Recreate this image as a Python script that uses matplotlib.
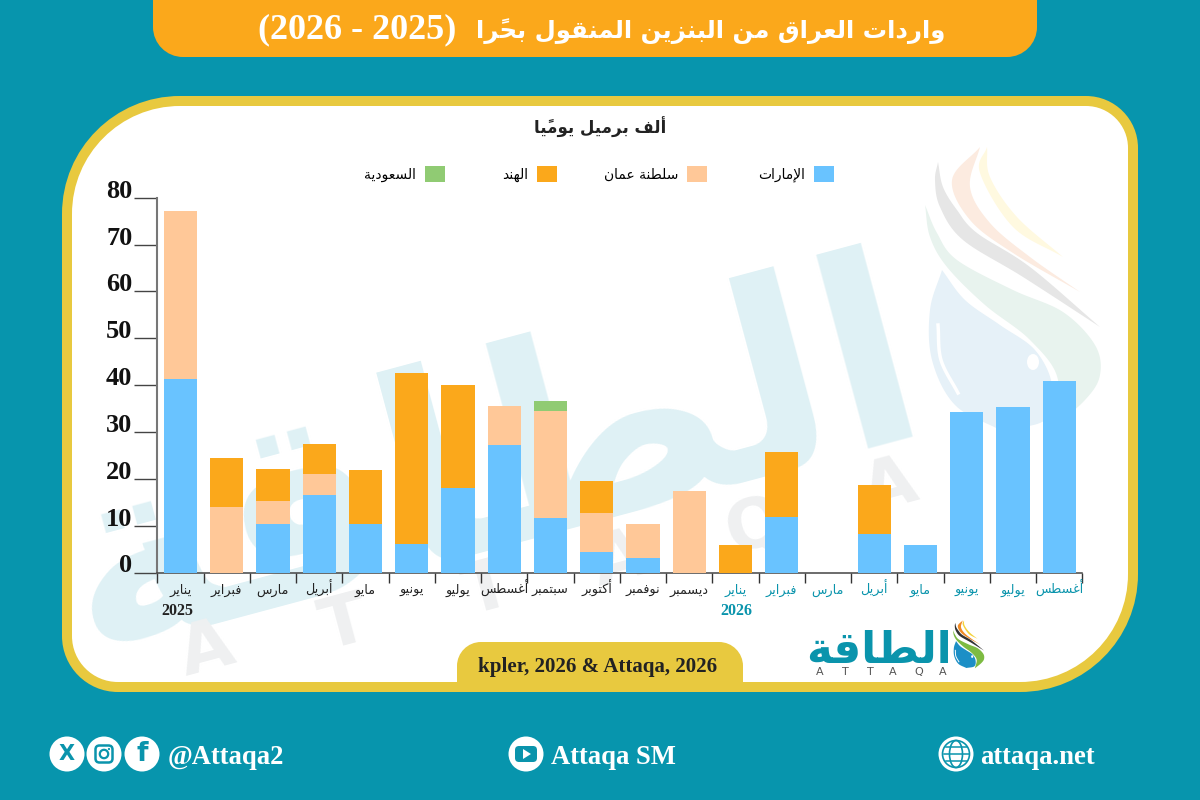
import matplotlib
matplotlib.use("Agg")
import matplotlib.pyplot as plt
import numpy as np
from matplotlib.path import Path
from matplotlib.patches import PathPatch, Circle, FancyBboxPatch, Polygon, Ellipse

# ---------- data ----------
months = ["يناير", "فبراير", "مارس", "أبريل", "مايو", "يونيو", "يوليو", "أغسطس", "سبتمبر", "أكتوبر",
          "نوفمبر", "ديسمبر", "يناير", "فبراير", "مارس", "أبريل", "مايو", "يونيو", "يوليو", "أغسطس"]
years = {0: "2025", 12: "2026"}
uae =   [41.2, 0, 10.3, 16.5, 10.3, 6.0, 18.0, 27.3, 11.7, 4.4, 3.1, 0, 0, 11.8, 0, 8.2, 5.8, 34.2, 35.3, 40.8]
oman =  [35.9, 13.9, 4.9, 4.6, 0, 0, 0, 8.2, 22.7, 8.3, 7.2, 17.4, 0, 0, 0, 0, 0, 0, 0, 0]
india = [0, 10.5, 6.9, 6.3, 11.6, 36.6, 22.1, 0, 0, 6.8, 0, 0, 5.8, 13.9, 0, 10.5, 0, 0, 0, 0]
saudi = [0, 0, 0, 0, 0, 0, 0, 0, 2.1, 0, 0, 0, 0, 0, 0, 0, 0, 0, 0, 0]
series_names = ["الإمارات", "سلطنة عمان", "الهند", "السعودية"]
yticks = [0, 10, 20, 30, 40, 50, 60, 70, 80]
title_ar = "واردات العراق من البنزين المنقول بحرًا"
title_years = "(2026 - 2025)"
subtitle = "ألف برميل يوميًا"
source = "kpler, 2026 & Attaqa, 2026"

# ---------- colours ----------
TEAL = "#0795AD"; GOLD = "#E8C93F"; ORANGE = "#FBA81B"
BLUE = "#69C3FF"; PEACH = "#FFC898"; GREEN = "#90CB73"; WM = "#DFF1F5"; MTEAL = "#0A94AC"

# ---------- Arabic shaping (presentation forms, visual order) ----------
_dual = {"ئ": 0xFE89, "ب": 0xFE8F, "ت": 0xFE95, "ث": 0xFE99, "ج": 0xFE9D, "ح": 0xFEA1, "خ": 0xFEA5,
         "س": 0xFEB1, "ش": 0xFEB5, "ص": 0xFEB9, "ض": 0xFEBD, "ط": 0xFEC1, "ظ": 0xFEC5, "ع": 0xFEC9,
         "غ": 0xFECD, "ف": 0xFED1, "ق": 0xFED5, "ك": 0xFED9, "ل": 0xFEDD, "م": 0xFEE1, "ن": 0xFEE5,
         "ه": 0xFEE9, "ي": 0xFEF1}
_right = {"آ": 0xFE81, "أ": 0xFE83, "ؤ": 0xFE85, "إ": 0xFE87, "ا": 0xFE8D, "ة": 0xFE93, "د": 0xFEA9,
          "ذ": 0xFEAB, "ر": 0xFEAD, "ز": 0xFEAF, "و": 0xFEED, "ى": 0xFEEF}
_lam = {"آ": 0xFEF5, "أ": 0xFEF7, "إ": 0xFEF9, "ا": 0xFEFB}
_marks = "\u064B\u064C\u064D\u064E\u064F\u0650\u0651\u0652"


def shape(text):
    cl = []
    for ch in text:
        if ch in _marks and cl:
            cl[-1][1] += ch
        else:
            cl.append([ch, ""])
    merged = []
    i = 0
    while i < len(cl):
        if cl[i][0] == "ل" and i + 1 < len(cl) and cl[i + 1][0] in _lam:
            merged.append(["LA" + cl[i + 1][0], cl[i][1] + cl[i + 1][1]])
            i += 2
        else:
            merged.append(cl[i])
            i += 1
    out = []
    for i, (b, m) in enumerate(merged):
        prev = merged[i - 1][0] if i else " "
        nxt = merged[i + 1][0] if i + 1 < len(merged) else " "
        join_prev = prev in _dual
        join_next = nxt in _dual or nxt in _right or nxt.startswith("LA")
        if b.startswith("LA"):
            g = chr(_lam[b[2]] + (1 if join_prev else 0))
        elif b in _dual:
            idx = (3 if join_next else 1) if join_prev else (2 if join_next else 0)
            g = chr(_dual[b] + idx)
        elif b in _right:
            g = chr(_right[b] + (1 if join_prev else 0))
        else:
            g = b
        out.append(g + m)
    return "".join(reversed(out))


# ---------- helpers ----------
def rrect(x0, y0, x1, y1, tl, tr, br, bl):
    k = 0.5523
    v = [(x0 + tl, y0), (x1 - tr, y0), (x1 - tr + k * tr, y0), (x1, y0 + tr - k * tr), (x1, y0 + tr),
         (x1, y1 - br), (x1, y1 - br + k * br), (x1 - br + k * br, y1), (x1 - br, y1),
         (x0 + bl, y1), (x0 + bl - k * bl, y1), (x0, y1 - bl + k * bl), (x0, y1 - bl),
         (x0, y0 + tl), (x0, y0 + tl - k * tl), (x0 + tl - k * tl, y0), (x0 + tl, y0)]
    c = [Path.MOVETO, Path.LINETO, Path.CURVE4, Path.CURVE4, Path.CURVE4,
         Path.LINETO, Path.CURVE4, Path.CURVE4, Path.CURVE4,
         Path.LINETO, Path.CURVE4, Path.CURVE4, Path.CURVE4,
         Path.LINETO, Path.CURVE4, Path.CURVE4, Path.CURVE4]
    return Path(v, c)


def spline(pts, n=14):
    """Open Catmull-Rom curve through outline points (for the logo shapes)."""
    p = np.array(pts, float)
    p = np.vstack([2 * p[0] - p[1], p, 2 * p[-1] - p[-2]])
    out = []
    for i in range(1, len(p) - 2):
        t = np.linspace(0, 1, n, endpoint=False)[:, None]
        a, b, c, d = p[i - 1], p[i], p[i + 1], p[i + 2]
        out.append(0.5 * (2 * b + (c - a) * t + (2 * a - 5 * b + 4 * c - d) * t ** 2 + (3 * b - a - 3 * c + d) * t ** 3))
    out.append(p[-2][None, :])
    return np.vstack(out)


SWOOSHES = [
    ([(987, 147), (990, 177), (1017, 217), (1063, 257)], [(987, 147), (980, 173), (1013, 227), (1063, 257)]),
    ([(980, 147), (970, 187), (990, 223), (1030, 257), (1080, 292)], [(980, 147), (952, 180), (970, 220), (1013, 253), (1080, 292)]),
    ([(938, 162), (943, 187), (957, 210), (977, 233), (1030, 267), (1100, 327)],
     [(938, 162), (935, 180), (940, 207), (963, 240), (1023, 277), (1100, 327)]),
    ([(925, 205), (937, 233), (957, 260), (1013, 290), (1063, 312), (1095, 345), (1100, 375), (1085, 400), (1048, 432)],
     [(925, 205), (930, 237), (947, 267), (985, 305), (1030, 340), (1058, 380), (1048, 432)]),
    ([(942, 270), (965, 300), (1000, 325), (1035, 350), (1052, 385), (1045, 420), (1000, 430)],
     [(942, 270), (930, 310), (932, 360), (955, 405), (1000, 430)]),
]


def logo(target, u0, v0, w, h, colors, zorder):
    def P(a):
        return np.column_stack([u0 + (a[:, 0] - 925) * w / 180, v0 + (a[:, 1] - 145) * h / 285])

    for (e1, e2), col in zip(SWOOSHES, colors):
        poly = np.vstack([P(spline(e1)), P(spline(e2))[::-1]])
        target.add_patch(Polygon(poly, closed=True, fc=col, ec="none", zorder=zorder))
    arc = P(spline([(938, 325), (941, 360), (958, 393)]))
    target.plot(arc[:, 0], arc[:, 1], color="white", lw=2.2 * w / 180 + 0.3, zorder=zorder + 0.1)
    c = P(np.array([(1033.0, 362.0)]))[0]
    target.add_patch(Ellipse(c, 12 * w / 180, 16 * h / 285, fc="white", ec="none", zorder=zorder + 0.1))


fig = plt.figure(figsize=(12, 8), dpi=100, facecolor=TEAL)
bg = fig.add_axes([0, 0, 1, 1])
bg.set_xlim(0, 1200); bg.set_ylim(800, 0); bg.axis("off")

# frame
bg.add_patch(PathPatch(rrect(62, 96, 1138, 692, 118, 52, 118, 56), fc=GOLD, ec="none", zorder=0.5))
panel = PathPatch(rrect(72, 106, 1128, 682, 108, 42, 108, 46), fc="white", ec="none", zorder=0.6)
bg.add_patch(panel)
bg.add_patch(PathPatch(rrect(153, -40, 1037, 57, 0, 0, 30, 30), fc=ORANGE, ec="none", zorder=0.6))
bg.add_patch(PathPatch(rrect(457, 642, 743, 683, 24, 24, 0, 0), fc=GOLD, ec="none", zorder=2))

SERIF = ["Liberation Serif", "DejaVu Sans"]
AR = ["DejaVu Sans"]

# watermark
wm = bg.text(510, 540, shape("الطاقة"), family=AR, weight="bold", fontsize=190, color=WM,
             rotation=15, rotation_mode="anchor", ha="center", va="baseline", zorder=1)
for ch, x, y in [("A", 207, 650), ("T", 345, 625), ("T", 488, 590), ("A", 620, 560), ("Q", 755, 527), ("A", 890, 487)]:
    bg.text(x, y, ch, family="DejaVu Sans", weight="bold", fontsize=50, color="#EFF0F1",
            rotation=15, ha="center", va="center", zorder=1.1)
logo(bg, 925, 145, 180, 285, ["#FFF9E0", "#FCEBE0", "#E6E6E6", "#E8F3EE", "#E6F1F8"], zorder=1.2)

# ---------- chart ----------
ax = fig.add_axes([157.3 / 1200, 1 - 572.5 / 800, 925 / 1200, 374.8 / 800], facecolor="none")
x = np.arange(len(months))
bottom = np.zeros(len(months))
handles = []
for vals, col, name in zip([uae, oman, india, saudi], [BLUE, PEACH, ORANGE, GREEN], series_names):
    b = ax.bar(x, vals, width=0.72, bottom=bottom, color=col, label=shape(name), linewidth=0, zorder=3)
    handles.append(b)
    bottom = bottom + np.array(vals)

ax.set_xlim(-0.5, len(months) - 0.5)
ax.set_ylim(0, 80)
for s in ("top", "right"):
    ax.spines[s].set_visible(False)
ax.spines["left"].set_color("#777777"); ax.spines["left"].set_linewidth(1.5)
ax.spines["bottom"].set_color("#444444"); ax.spines["bottom"].set_linewidth(1.1)
ax.set_yticks(yticks)
ax.set_yticklabels([str(v) for v in yticks], family=SERIF, weight="bold", fontsize=19, color="#111111", va="baseline")
ax.tick_params(axis="y", length=16.5, width=1.0, color="#444444", pad=1.5)
ax.set_xticks(np.arange(len(months) + 1) - 0.5)
ax.set_xticklabels([])
ax.tick_params(axis="x", which="major", length=7.2, width=1.0, color="#333333")
ax.set_xticks(x, minor=True)
ax.set_xticklabels([shape(m) for m in months], minor=True, family=AR, fontsize=9.2, va="baseline")
ax.tick_params(axis="x", which="minor", length=0, pad=15.5)
for i, lab in enumerate(ax.get_xticklabels(minor=True)):
    lab.set_color("#222222" if i < 12 else MTEAL)
for i, yr in years.items():
    ax.annotate(yr, xy=(i, 0), xycoords=ax.get_xaxis_transform(), xytext=(-2 if i < 12 else 1, -28),
                textcoords="offset points", ha="center", va="center", family=SERIF, weight="bold", fontsize=11.5,
                color="#222222" if i < 12 else MTEAL)

# one single-entry legend per series, since the gaps between entries differ
for h, name, right in zip(handles, series_names, [834, 707, 557, 445]):
    leg = ax.legend([h], [shape(name)], loc="center right", bbox_to_anchor=(right / 1200, 1 - 174 / 800),
                    bbox_transform=fig.transFigure, frameon=False, markerfirst=False,
                    prop={"family": AR, "size": 10}, handlelength=1.44, handleheight=1.44,
                    handletextpad=0.65, borderpad=0, borderaxespad=0)
    ax.add_artist(leg)
ax.legend_ = None

# ---------- texts ----------
top = fig.add_axes([0, 0, 1, 1], facecolor="none")
top.set_xlim(0, 1200); top.set_ylim(800, 0); top.axis("off")
top.text(258, 38, title_years, family=SERIF, weight="bold", fontsize=26, color="white", ha="left", va="baseline")
top.text(945, 38, shape(title_ar), family=AR, weight="bold", fontsize=17.6, color="white", ha="right", va="baseline")
top.text(600, 127, shape(subtitle), family=AR, weight="bold", fontsize=12, color="#222222", ha="center", va="center")
top.text(598, 667, source, family=SERIF, weight="bold", fontsize=15.1, color="#222222", ha="center", va="center")

# logo
top.text(879, 663, shape("الطاقة"), family=AR, weight="bold", fontsize=31.5, color=MTEAL, ha="center", va="baseline")
for ch, xx in zip("ATTAQA", [820, 845, 870, 893, 919, 943]):
    top.text(xx, 672, ch, family="DejaVu Sans", fontsize=8, color="#555555", ha="center", va="center")
logo(top, 953, 620, 32, 48, ["#F5D33B", "#F08A24", "#333333", "#7DBB42", "#1C8FC6"], zorder=3)

# ---------- footer ----------
for cx in (67, 104, 142, 526, 956):
    top.add_patch(Circle((cx, 754), 17.5, fc="white", ec="none"))
top.text(67, 754, "X", family="DejaVu Sans", weight="bold", fontsize=15, color=MTEAL, ha="center", va="center")
top.add_patch(FancyBboxPatch((95.5, 745.5), 17, 17, boxstyle="round,pad=0,rounding_size=4", fc="none", ec=MTEAL, lw=1.8))
top.add_patch(Circle((104, 754), 4.2, fc="none", ec=MTEAL, lw=1.6))
top.add_patch(Circle((109, 749), 1.1, fc=MTEAL, ec="none"))
top.text(142, 754, "f", family="DejaVu Sans", weight="bold", fontsize=19, color=MTEAL, ha="center", va="center")
top.add_patch(FancyBboxPatch((515, 746), 22, 16, boxstyle="round,pad=0,rounding_size=4", fc=MTEAL, ec="none"))
top.add_patch(Polygon([(523, 749), (523, 759), (531, 754)], closed=True, fc="white", ec="none"))
top.add_patch(Circle((956, 754), 13.5, fc="none", ec=MTEAL, lw=1.2))
top.add_patch(Ellipse((956, 754), 13, 27, fc="none", ec=MTEAL, lw=1.2))
for dy in (-7, 0, 7):
    w = 12.5 if dy == 0 else 10.5
    top.plot([956 - w, 956 + w], [754 + dy, 754 + dy], color=MTEAL, lw=1.1)
for txt, xx in [("@Attaqa2", 168), ("Attaqa SM", 551), ("attaqa.net", 980)]:
    top.text(xx, 757, txt, family=SERIF, weight="bold", fontsize=19.2, color="white", ha="left", va="center")

fig.savefig("out.png", dpi=100, facecolor=TEAL)
